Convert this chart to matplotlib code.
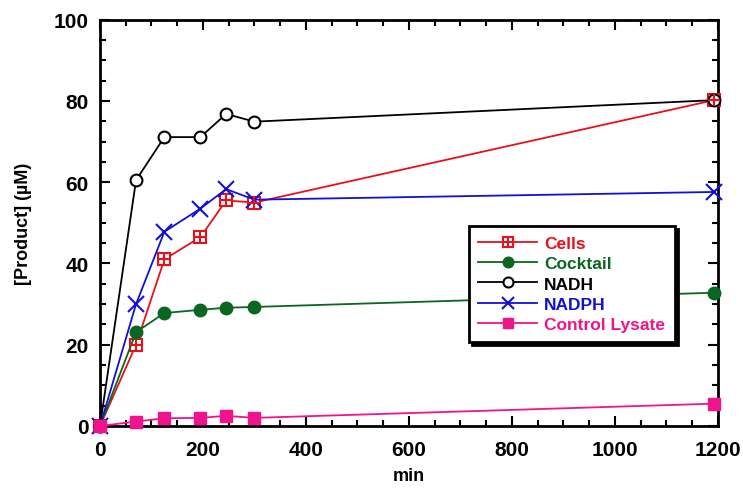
import matplotlib
matplotlib.use("Agg")
import matplotlib.pyplot as plt
from matplotlib.legend_handler import HandlerTuple
from matplotlib.ticker import MultipleLocator

plt.rcParams['font.family'] = ['Liberation Sans', 'DejaVu Sans']
plt.rcParams['font.weight'] = 'bold'

# time points (min)
t = [0, 70, 125, 195, 245, 300, 1193]

# product concentration (uM)
cells = [0, 20, 41, 46.5, 55.5, 55, 80.2]
cocktail = [0, 23.1, 27.8, 28.6, 29.1, 29.3, 32.8]
nadh = [0, 60.5, 71.1, 71.1, 76.8, 74.9, 80.2]
nadph = [0, 30, 47.8, 53.5, 58.3, 55.7, 57.6]
control = [0, 1.1, 1.9, 2.0, 2.5, 2.0, 5.5]

red = '#e8101a'
green = '#0a6620'
blue = '#1010d8'
pink = '#f0148c'

fig = plt.figure(figsize=(7.43, 4.89), dpi=100)
ax = fig.add_axes([0.1346, 0.1268, 0.8314, 0.8309])

lw = 1.3
l_cells, = ax.plot(t, cells, color=red, lw=lw, marker='s', ms=9,
                   mfc='white', mec=red, mew=1.5, clip_on=False, zorder=3)
p_cells, = ax.plot(t, cells, ls='none', marker='+', ms=9, mec=red,
                   mew=1.5, clip_on=False, zorder=4)
l_cock, = ax.plot(t, cocktail, color=green, lw=lw, marker='o', ms=9,
                  mfc=green, mec=green, clip_on=False, zorder=3)
l_nadh, = ax.plot(t, nadh, color='black', lw=lw, marker='o', ms=8.5,
                  mfc='white', mec='black', mew=1.5, clip_on=False, zorder=3)
l_nadph, = ax.plot(t, nadph, color=blue, lw=lw, marker='x', ms=11,
                   mec=blue, mew=1.5, clip_on=False, zorder=3)
l_ctrl, = ax.plot(t, control, color=pink, lw=lw, marker='s', ms=8,
                  mfc=pink, mec=pink, clip_on=False, zorder=5)

ax.set_xlim(0, 1200)
ax.set_ylim(0, 100)
ax.xaxis.set_major_locator(MultipleLocator(200))
ax.xaxis.set_minor_locator(MultipleLocator(50))
ax.yaxis.set_major_locator(MultipleLocator(20))
ax.yaxis.set_minor_locator(MultipleLocator(5))
ax.tick_params(which='both', direction='in', top=True, right=True,
               width=1.5, labelsize=15)
ax.tick_params(which='major', length=7)
ax.tick_params(axis='x', which='major', pad=10)
ax.tick_params(axis='y', which='major', pad=8)
ax.tick_params(which='minor', length=4)
for s in ax.spines.values():
    s.set_linewidth(2)

ax.set_xlabel('min', fontsize=13, fontweight='bold', labelpad=6)
ax.set_ylabel('[Product] (\u00b5M)', fontsize=13, fontweight='bold', labelpad=16)

leg = ax.legend([(l_cells, p_cells), l_cock, l_nadh, l_nadph, l_ctrl],
                ['Cells', 'Cocktail', 'NADH', 'NADPH', 'Control Lysate'],
                handler_map={tuple: HandlerTuple(ndivide=1, pad=0)},
                loc='upper left', bbox_to_anchor=(0.597, 0.492),
                borderaxespad=0, fancybox=False, framealpha=1,
                shadow={'color': 'black', 'alpha': 1, 'ox': 2, 'oy': -2},
                edgecolor='black', handlelength=3.4, handletextpad=0.4,
                labelspacing=0.3, prop={'size': 12.5, 'weight': 'bold'},
                markerscale=0.85, borderpad=0.55)
leg.get_frame().set_linewidth(2)
for txt, c in zip(leg.get_texts(), [red, green, 'black', blue, pink]):
    txt.set_color(c)

fig.savefig('out.png', dpi=100)
